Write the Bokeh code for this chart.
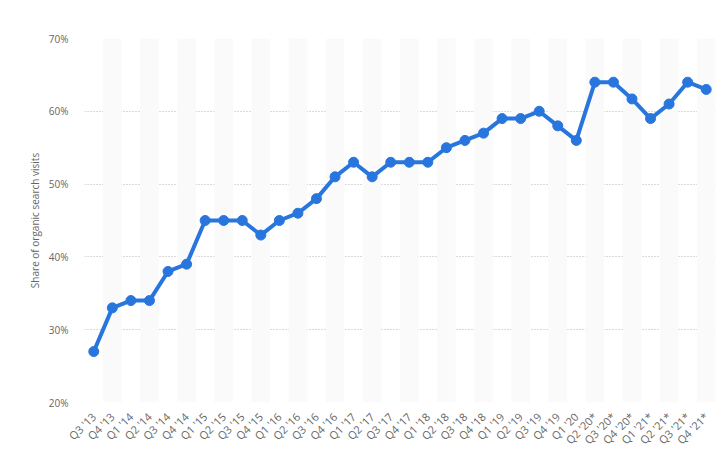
from bokeh.plotting import figure
from bokeh.models import FactorRange, Range1d, FixedTicker, PrintfTickFormatter, ColumnDataSource
from bokeh.embed import file_html
from bokeh.resources import INLINE

# Quarters (asterisk marks preliminary figures)
quarters = [
    "Q3 '13", "Q4 '13",
    "Q1 '14", "Q2 '14", "Q3 '14", "Q4 '14",
    "Q1 '15", "Q2 '15", "Q3 '15", "Q4 '15",
    "Q1 '16", "Q2 '16", "Q3 '16", "Q4 '16",
    "Q1 '17", "Q2 '17", "Q3 '17", "Q4 '17",
    "Q1 '18", "Q2 '18", "Q3 '18", "Q4 '18",
    "Q1 '19", "Q2 '19", "Q3 '19", "Q4 '19",
    "Q1 '20", "Q2 '20*", "Q3 '20*", "Q4 '20*",
    "Q1 '21*", "Q2 '21*", "Q3 '21*", "Q4 '21*",
]

# Share of organic search visits, in percent
share = [
    27, 33,
    34, 34, 38, 39,
    45, 45, 45, 43,
    45, 46, 48, 51,
    53, 51, 53, 53,
    53, 55, 56, 57,
    59, 59, 60, 58,
    56, 64, 64, 61.7,
    59, 61, 64, 63,
]

y_ticks = [20, 30, 40, 50, 60, 70]

FONT = "Open Sans"
GREY = "#666666"

p = figure(
    x_range=FactorRange(*quarters, range_padding=0),
    y_range=Range1d(20, 70),
    width=720, height=456,
    output_backend="svg", toolbar_location=None,
    min_border_left=84, min_border_right=5,
    min_border_top=38, min_border_bottom=54,
)
p.outline_line_color = None
p.background_fill_color = "white"
p.border_fill_color = "white"

# alternating column shading
band_src = ColumnDataSource(dict(x=quarters[1::2]))
p.vbar(x="x", width=1.0, bottom=20, top=70, source=band_src,
       fill_color="#fafafa", line_color=None)

src = ColumnDataSource(dict(q=quarters, v=share))
p.line(x="q", y="v", source=src, line_color="#2876dd", line_width=4)
p.scatter(x="q", y="v", source=src, size=10, fill_color="#2876dd", line_color="#2876dd")

# grid
p.xgrid.grid_line_color = None
p.ygrid.grid_line_color = "#b4b4b4"
p.ygrid.grid_line_dash = "1 2"
p.ygrid.grid_line_width = 1
p.ygrid.ticker = FixedTicker(ticks=y_ticks)

# y axis
p.yaxis.ticker = FixedTicker(ticks=y_ticks)
p.yaxis.formatter = PrintfTickFormatter(format="%d%%")
p.yaxis.axis_line_color = None
p.yaxis.major_tick_line_color = None
p.yaxis.minor_tick_line_color = None
p.yaxis.major_label_standoff = 10
p.yaxis.major_label_text_font = FONT
p.yaxis.major_label_text_font_size = "10px"
p.yaxis.major_label_text_color = GREY
p.yaxis.axis_label = "Share of organic search visits"
p.yaxis.axis_label_text_font = FONT
p.yaxis.axis_label_text_font_size = "10px"
p.yaxis.axis_label_text_font_style = "normal"
p.yaxis.axis_label_text_color = GREY
p.yaxis.axis_label_standoff = 4

# x axis
p.xaxis.axis_line_color = None
p.xaxis.major_tick_line_color = None
p.xaxis.minor_tick_line_color = None
p.xaxis.major_label_orientation = 0.785
p.xaxis.major_label_standoff = 6
p.xaxis.major_label_text_font = FONT
p.xaxis.major_label_text_font_size = "11px"
p.xaxis.major_label_text_color = GREY

open("out.html", "w").write(file_html(p, INLINE))
